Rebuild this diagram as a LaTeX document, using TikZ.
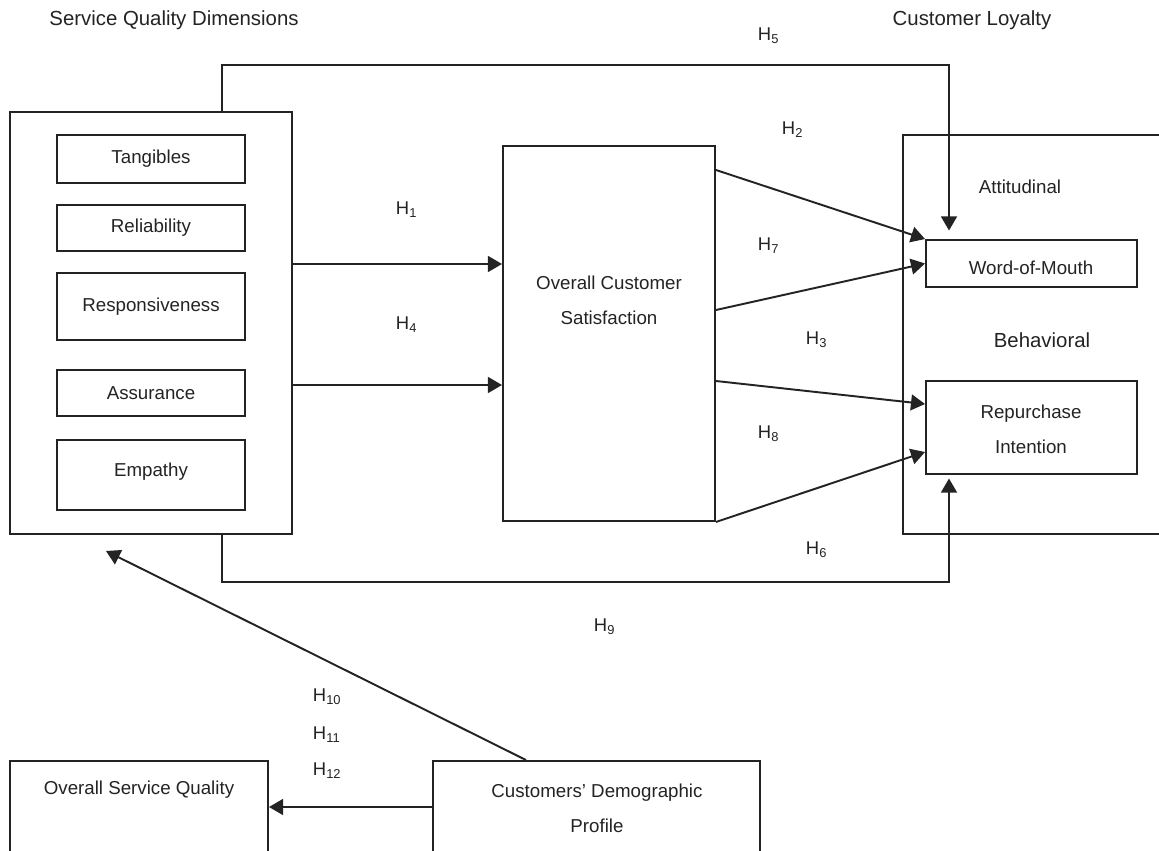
\documentclass[tikz,border=0pt]{standalone}
\usepackage{fontspec}
\setmainfont{Liberation Sans}
\usetikzlibrary{arrows.meta,fit}
\definecolor{ink}{RGB}{35,35,35}
\begin{document}
\begin{tikzpicture}[x=0.02cm,y=-0.02cm,color=ink,line width=1.1pt,
  box/.style={draw,rectangle,inner sep=0pt},
  lbl/.style={font=\fontsize{10.65}{19.8}\selectfont,align=center,inner sep=0pt},
  ttl/.style={font=\fontsize{11.6}{14}\selectfont,inner sep=0pt},
  hyp/.style={font=\fontsize{10.5}{12}\selectfont,anchor=west,inner sep=0pt},
  arr/.style={-{Triangle[length=8pt,width=9pt]}}]
\useasboundingbox (0,0) rectangle (1159,851);
% titles
\node[ttl] (t1) at (174,20) {Service Quality Dimensions};
\node[ttl] (t2) at (972,20) {Customer Loyalty};
% service quality dimensions
\node[box, fit={(10,112) (292,534)}] (sqd) {};
\node[box, fit={(57,135) (245,183)}] (tan) {};
\node[box, fit={(57,205) (245,251)}] (rel) {};
\node[box, fit={(57,273) (245,340)}] (res) {};
\node[box, fit={(57,370) (245,416)}] (ass) {};
\node[box, fit={(57,440) (245,510)}] (emp) {};
\node[lbl] (tant) at (tan.center) {Tangibles};
\node[lbl] (relt) at (rel.center) {Reliability};
\node[lbl] (rest) at (res.center) {Responsiveness};
\node[lbl] (asst) at (ass.center) {Assurance};
\node[lbl] (empt) at ([yshift=0.06cm]emp.center) {Empathy};
% satisfaction
\node[box, fit={(503,146) (715,521)}] (ocs) {};
\node[lbl] (ocst) at (609,300) {Overall Customer\\Satisfaction};
% loyalty
\node[box, fit={(903,135) (1163,534)}] (cl) {};
\node[lbl] (att) at (1020,187) {Attitudinal};
\node[box, fit={(926,240) (1137,287)}] (wom) {};
\node[lbl] (womt) at (1031,268) {Word-of-Mouth};
\node[ttl] (beh) at (1042,340) {Behavioral};
\node[box, fit={(926,381) (1137,474)}] (rpi) {};
\node[lbl] (rpit) at (1031,429) {Repurchase\\Intention};
% bottom
\node[box, fit={(10,761) (268,880)}] (osq) {};
\node[lbl] (osqt) at (139,790) {Overall Service Quality};
\node[box, fit={(433,761) (760,880)}] (cdp) {};
\node[lbl] (cdpt) at (597,808) {Customers’ Demographic\\Profile};
% hypothesis labels
\node[hyp] (h1) at (395,210) {H\textsubscript{1}};
\node[hyp] (h4) at (395,325) {H\textsubscript{4}};
\node[hyp] (h5) at (757,36) {H\textsubscript{5}};
\node[hyp] (h2) at (781,130) {H\textsubscript{2}};
\node[hyp] (h7) at (757,246) {H\textsubscript{7}};
\node[hyp] (h3) at (805,340) {H\textsubscript{3}};
\node[hyp] (h8) at (757,434) {H\textsubscript{8}};
\node[hyp] (h6) at (805,550) {H\textsubscript{6}};
\node[hyp] (h9) at (593,627) {H\textsubscript{9}};
\node[hyp] (h10) at (312,697) {H\textsubscript{10}};
\node[hyp] (h11) at (312,735) {H\textsubscript{11}};
\node[hyp] (h12) at (312,771) {H\textsubscript{12}};
% connectors
\draw[arr] (sqd.east |- 0,264) -- (ocs.west |- 0,264);
\draw[arr] (sqd.east |- 0,385) -- (ocs.west |- 0,385);
\draw[arr] (ocs.east |- 0,170) -- (wom.north west);
\draw[arr] (ocs.east |- 0,310) -- (wom.west);
\draw[arr] (ocs.east |- 0,381) -- (rpi.west |- 0,404);
\draw[arr] (ocs.south east) -- (rpi.west |- 0,452);
\draw[arr, shorten >=0.17cm] (sqd.north -| 222,0) |- (949,65) -- (wom.north -| 949,0);
\draw[arr, shorten >=2pt] (sqd.south -| 222,0) |- (949,582) -- (rpi.south -| 949,0);
\coordinate (h10end) at (106,551);
\draw[arr] (cdp.north -| 526,0) -- (h10end);
\draw[arr] (cdp.west |- 0,807) -- (osq.east |- 0,807);
\end{tikzpicture}
\end{document}
